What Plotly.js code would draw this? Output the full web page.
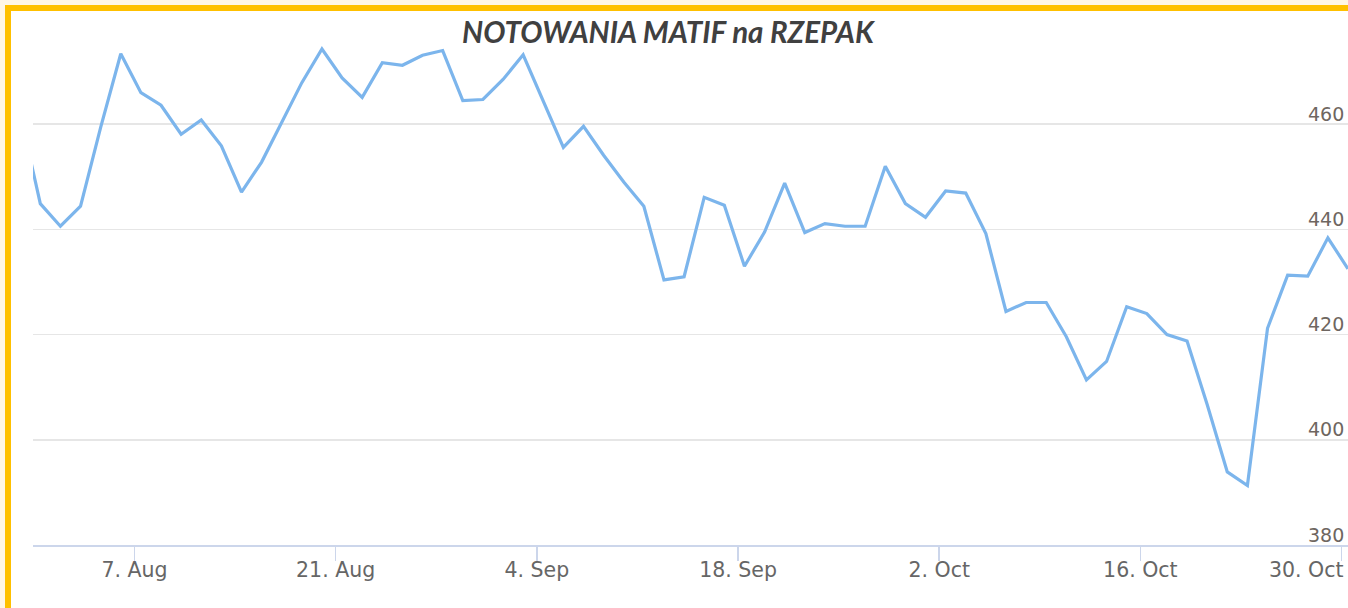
<!DOCTYPE html>
<html>
<head>
<meta charset="utf-8">
<script src="https://cdn.plot.ly/plotly-3.0.1.min.js"></script>
<style>
  html, body { margin: 0; padding: 0; width: 1348px; height: 608px; overflow: hidden; background: #fff6e6; }
  #frame { position: absolute; left: 5px; top: 5px; width: 1343px; height: 603px; background: #ffc000; }
  #inner { position: absolute; left: 11px; top: 11px; width: 1337px; height: 597px; background: #ffffff; }
  #chart { position: absolute; left: 0; top: 0; width: 1348px; height: 608px; }
</style>
</head>
<body>
<div id="frame"></div>
<div id="inner"></div>
<div id="chart"></div>
<script>
// Trading days (MATIF rapeseed quotes)
const dates = [
  '2023-07-28',
  '2023-07-31','2023-08-01','2023-08-02','2023-08-03','2023-08-04',
  '2023-08-07','2023-08-08','2023-08-09','2023-08-10','2023-08-11',
  '2023-08-14','2023-08-15','2023-08-16','2023-08-17','2023-08-18',
  '2023-08-21','2023-08-22','2023-08-23','2023-08-24','2023-08-25',
  '2023-08-28','2023-08-29','2023-08-30','2023-08-31','2023-09-01',
  '2023-09-04','2023-09-05','2023-09-06','2023-09-07','2023-09-08',
  '2023-09-11','2023-09-12','2023-09-13','2023-09-14','2023-09-15',
  '2023-09-18','2023-09-19','2023-09-20','2023-09-21','2023-09-22',
  '2023-09-25','2023-09-26','2023-09-27','2023-09-28','2023-09-29',
  '2023-10-02','2023-10-03','2023-10-04','2023-10-05','2023-10-06',
  '2023-10-09','2023-10-10','2023-10-11','2023-10-12','2023-10-13',
  '2023-10-16','2023-10-17','2023-10-18','2023-10-19','2023-10-20',
  '2023-10-23','2023-10-24','2023-10-25','2023-10-26','2023-10-27',
  '2023-10-30'
];
const prices = [
  462.0,
  444.9, 440.6, 444.4, 459.4, 473.4,
  466.0, 463.6, 458.1, 460.8, 455.9,
  447.1, 452.8, 460.5, 467.9, 474.3,
  468.8, 465.1, 471.7, 471.2, 473.1,
  474.0, 464.5, 464.7, 468.5, 473.2,
  464.3, 455.6, 459.6, 454.1, 449.0,
  444.4, 430.4, 431.0, 446.1, 444.6,
  433.0, 439.5, 448.8, 439.4, 441.1,
  440.6, 440.6, 452.0, 444.9, 442.3,
  447.3, 446.9, 439.2, 424.4, 426.1,
  426.1, 419.6, 411.4, 414.9, 425.3,
  424.0, 420.0, 418.8, 406.7, 393.9,
  391.3, 421.2, 431.3, 431.1, 438.4,
  432.5
];
const xTickDates = ['2023-08-07','2023-08-21','2023-09-04','2023-09-18','2023-10-02','2023-10-16','2023-10-30'];
const xTickText  = ['7. Aug','21. Aug','4. Sep','18. Sep','2. Oct','16. Oct','30. Oct'];
const yTickVals  = [380, 400, 420, 440, 460, 480];
const yTickText  = ['380', '400', '420', '440', '460', ''];

// week-start ticks sit slightly before the Monday quote (ordinal axis)
const tickShift = 0.32;
const xTickVals = xTickDates.map(d => dates.indexOf(d) - tickShift);
// visible window: from just after the first quote to the last quote
const xRange = [0.637, dates.length - 1];

// the last tick label is pulled inside the chart edge (right-aligned), as in the original
const lastIdx = xTickVals.length - 1;
const axisTickText = xTickText.map((t, i) => i === lastIdx ? '' : t);

const labelFont = { family: '"DejaVu Sans", Verdana, sans-serif', size: 20.5, color: '#666666' };

const trace = {
  x: dates,
  y: prices,
  type: 'scatter',
  mode: 'lines',
  line: { color: '#7cb5ec', width: 3.2 },
  hoverinfo: 'x+y'
};

const layout = {
  width: 1348,
  height: 608,
  margin: { l: 33, r: 0, t: 19, b: 63, pad: 0 },
  paper_bgcolor: 'rgba(0,0,0,0)',
  plot_bgcolor: 'rgba(0,0,0,0)',
  showlegend: false,
  title: {
    text: 'NOTOWANIA MATIF na RZEPAK',
    x: 0.4955, xref: 'container', xanchor: 'center',
    y: 1 - 33 / 608, yref: 'container', yanchor: 'middle',
    font: { family: 'Lato, "Open Sans", sans-serif', size: 29.5, color: '#404040', weight: 'bold', style: 'italic' }
  },
  xaxis: {
    type: 'category',
    range: xRange,
    tickmode: 'array',
    tickvals: xTickVals,
    ticktext: axisTickText,
    ticks: 'outside',
    ticklen: 14,
    tickwidth: 1.5,
    tickcolor: '#ccd6eb',
    ticklabelstandoff: -9,
    ticklabeloverflow: 'allow',
    showline: true,
    linecolor: '#ccd6eb',
    linewidth: 2,
    showgrid: false,
    zeroline: false,
    tickfont: labelFont,
    fixedrange: true
  },
  yaxis: {
    type: 'linear',
    range: [380, 480],
    side: 'right',
    tickmode: 'array',
    tickvals: yTickVals,
    ticktext: yTickText,
    ticklabelposition: 'outside',
    ticklabelstandoff: -41,
    ticklabelshift: -10,
    ticklabeloverflow: 'allow',
    ticks: '',
    showline: false,
    showgrid: true,
    gridcolor: '#e6e6e6',
    gridwidth: 1.5,
    zeroline: false,
    tickfont: { family: '"DejaVu Sans", Verdana, sans-serif', size: 19, color: '#6e6660' },
    fixedrange: true
  },
  annotations: [{
    x: xTickVals[lastIdx], xref: 'x', xanchor: 'right', xshift: 4,
    y: 0, yref: 'paper', yanchor: 'middle', yshift: -25,
    text: xTickText[lastIdx],
    showarrow: false,
    font: labelFont
  }]
};

Plotly.newPlot('chart', [trace], layout, { displayModeBar: false, staticPlot: true });
</script>
</body>
</html>
